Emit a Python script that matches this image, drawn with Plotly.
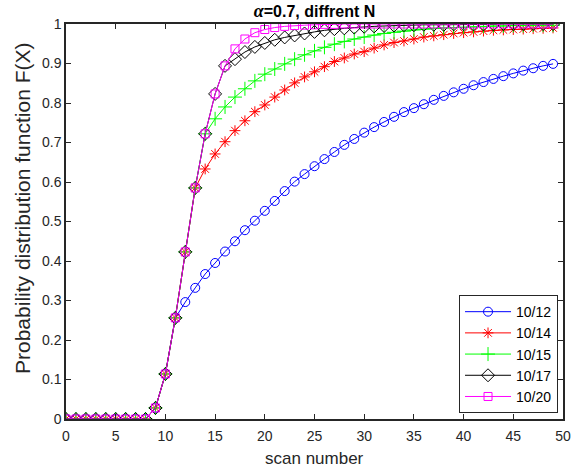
import plotly.graph_objects as go

scan = list(range(50))

f_10_12 = [0, 0, 0, 0, 0, 0, 0, 0, 0, 0.028, 0.114, 0.256,
           0.296, 0.332, 0.367, 0.395, 0.424, 0.450, 0.478, 0.502, 0.527, 0.552,
           0.577, 0.601, 0.620, 0.640, 0.658, 0.676, 0.694, 0.709, 0.725, 0.739,
           0.752, 0.765, 0.777, 0.787, 0.797, 0.808, 0.818, 0.827, 0.836, 0.845,
           0.853, 0.861, 0.868, 0.875, 0.882, 0.888, 0.894, 0.899]

f_10_14 = [0, 0, 0, 0, 0, 0, 0, 0, 0, 0.028, 0.114, 0.256, 0.423, 0.585,
           0.633, 0.671, 0.702, 0.730, 0.755, 0.778, 0.795, 0.815, 0.833, 0.851,
           0.866, 0.879, 0.892, 0.905, 0.914, 0.924, 0.930, 0.939, 0.947, 0.953,
           0.957, 0.962, 0.967, 0.970, 0.973, 0.976, 0.978, 0.980, 0.982, 0.984,
           0.985, 0.986, 0.987, 0.988, 0.989, 0.990]

f_10_15 = [0, 0, 0, 0, 0, 0, 0, 0, 0, 0.028, 0.114, 0.256, 0.423, 0.585, 0.722,
           0.760, 0.790, 0.815, 0.836, 0.856, 0.873, 0.886, 0.899, 0.911, 0.922,
           0.932, 0.941, 0.949, 0.956, 0.962, 0.967, 0.972, 0.976, 0.979, 0.982,
           0.985, 0.987, 0.989, 0.990, 0.991, 0.992, 0.993, 0.994, 0.995, 0.995,
           0.996, 0.996, 0.997, 0.997, 0.997]

f_10_17 = [0, 0, 0, 0, 0, 0, 0, 0, 0, 0.028, 0.114, 0.256, 0.423, 0.585, 0.722,
           0.823, 0.894, 0.911, 0.929, 0.942, 0.952, 0.960, 0.966, 0.971, 0.976,
           0.980, 0.984, 0.987, 0.989, 0.991, 0.993, 0.994, 0.995, 0.996, 0.997,
           0.997, 0.998, 0.998, 0.998, 0.999, 0.999, 0.999, 0.999, 0.999, 1.0,
           1.0, 1.0, 1.0, 1.0, 1.0]

f_10_20 = [0, 0, 0, 0, 0, 0, 0, 0, 0, 0.028, 0.114, 0.256, 0.423, 0.585, 0.722,
           0.823, 0.894, 0.937, 0.962, 0.978, 0.986, 0.991, 0.994, 0.996, 0.997,
           0.998, 0.999, 0.999, 1.0, 1.0, 1.0, 1.0, 1.0, 1.0, 1.0,
           1.0, 1.0, 1.0, 1.0, 1.0, 1.0, 1.0, 1.0, 1.0, 1.0,
           1.0, 1.0, 1.0, 1.0, 1.0]

series_names = ["10/12", "10/14", "10/15", "10/17", "10/20"]
series_vals = [f_10_12, f_10_14, f_10_15, f_10_17, f_10_20]
colors = ["#0000ff", "#ff0000", "#00ff00", "#000000", "#ff00ff"]
symbols = ["circle-open", "asterisk-open", "cross-thin-open", "diamond-open", "square-open"]
sizes = [9, 9, 10, 10, 8]

x_ticks = list(range(0, 51, 5))
y_ticks = [i / 10 for i in range(11)]
y_tick_labels = ["0"] + [f"{v:.1f}" for v in y_ticks[1:-1]] + ["1"]

fig = go.Figure()
for name, vals, c, s, sz in zip(series_names, series_vals, colors, symbols, sizes):
    fig.add_trace(go.Scatter(
        x=scan, y=vals, name=name, mode="lines+markers",
        line=dict(color=c, width=1),
        marker=dict(symbol=s, size=sz, color=c, line=dict(color=c, width=1)),
    ))

FONT = "Arial, Liberation Sans"
axis_common = dict(
    showline=True, linecolor="#262626", linewidth=1.5, mirror="ticks",
    ticks="inside", ticklen=5, tickcolor="#262626", tickwidth=1,
    showgrid=False, zeroline=False,
    tickfont=dict(family=FONT, size=14, color="#262626"),
)

W, H = 583, 470
L, R, T, B = 66, 20, 24, 51
PW, PH = W - L - R, H - T - B

fig.update_layout(
    width=W, height=H,
    margin=dict(l=L, r=R, t=T, b=B),
    paper_bgcolor="white", plot_bgcolor="white",
    title=dict(
        text="<b><i><span style='font-family:Liberation Serif;font-size:18px'>α</span></i>=0.7, diffrent N</b>",
        x=(L + (W - R)) / 2 / W, xanchor="center", y=1 - 11 / H, yanchor="middle",
        font=dict(family=FONT, size=16, color="#000000"),
    ),
    xaxis=dict(range=[0, 50], tickvals=x_ticks, ticklabelstandoff=3, **axis_common),
    yaxis=dict(range=[0, 1], tickvals=y_ticks, ticktext=y_tick_labels, **axis_common),
    legend=dict(
        x=0.99, y=0.015, xanchor="right", yanchor="bottom",
        bgcolor="white", bordercolor="#262626", borderwidth=1,
        font=dict(family=FONT, size=14, color="#000000"),
        tracegroupgap=0, itemwidth=46,
    ),
    showlegend=True,
    annotations=[
        dict(text="scan number", xref="paper", yref="paper",
             x=0.5, y=-(458 - (H - B)) / PH,
             xanchor="center", yanchor="middle", showarrow=False,
             font=dict(family=FONT, size=17, color="#262626")),
        dict(text="Probability distribution function F(X)", xref="paper", yref="paper",
             x=(22 - L) / PW, y=((H - B) - 209) / PH, textangle=-90,
             xanchor="center", yanchor="middle", showarrow=False,
             font=dict(family=FONT, size=21, color="#262626")),
    ],
)

fig.write_html("out.html", config={"displayModeBar": False},
               post_script="document.body.style.margin='0';document.body.style.overflow='hidden';")
